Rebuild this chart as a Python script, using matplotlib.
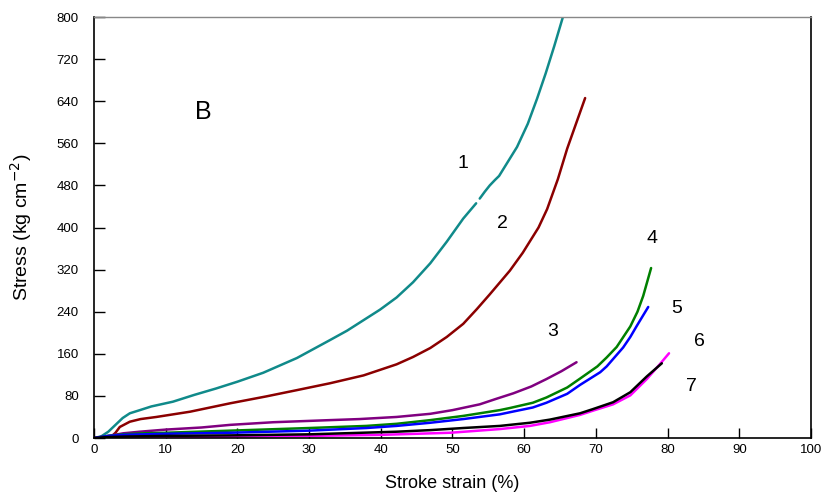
import matplotlib
matplotlib.use("Agg")
import matplotlib.pyplot as plt

# Curve 1 (teal), drawn in two pieces with a small gap
c1a_x = [0, 1, 2, 3, 4, 5, 6.4, 8, 11, 14, 17, 20, 23.6, 28.3, 32.9, 35.3, 37.6, 39.9, 42.2, 44.5, 46.9, 49.2, 51.5, 53.3]
c1a_y = [0, 3, 12, 25, 38, 47, 53, 60, 69, 82, 94, 107, 124, 152, 186, 204, 224, 244, 267, 296, 332, 373, 417, 446]
c1b_x = [53.8, 54.5, 55.2, 55.9, 56.5, 57.5, 59, 60.5, 61.8, 63, 64.2, 65.4]
c1b_y = [455, 468, 480, 490, 498, 520, 553, 597, 645, 693, 745, 800]

c2_x = [2.2, 3, 3.6, 5, 6.5, 8.7, 13.4, 19, 24, 28.3, 32.9, 37.6, 42.2, 44.5, 46.9, 49.2, 51.5, 53.4, 55.2, 58, 59.8, 62, 63.2, 64.7, 66, 67.3, 68.5]
c2_y = [0, 10, 21, 31, 36, 40, 50, 66, 79, 91, 104, 119, 140, 154, 171, 192, 217, 245, 273, 318, 352, 400, 435, 492, 550, 600, 646]

c3_x = [0, 2, 4.1, 6.4, 10, 15, 19, 25, 32.9, 37, 42.2, 46.9, 50, 53.8, 56, 58.5, 61, 63.1, 65.2, 67.3]
c3_y = [0, 4, 9, 12, 16, 20, 25, 30, 34, 36, 40, 46, 53, 64, 74, 85, 98, 112, 127, 144]

c4_x = [0, 2, 4, 7, 10, 19, 30, 38, 42.2, 46.9, 51.5, 56.6, 58, 61.2, 63.1, 66, 67.8, 70.2, 71.5, 72.9, 74.8, 75.8, 76.6, 77.7]
c4_y = [0, 4, 7, 9, 10, 14, 19, 23, 27, 34, 42, 53, 57, 67, 77, 96, 113, 136, 153, 173, 212, 240, 270, 323]

c5_x = [0, 2, 4, 7, 10, 19, 30, 38, 42.2, 46.9, 51.5, 56.6, 58, 61.2, 63.1, 66, 67.8, 70.6, 71.5, 73.8, 74.8, 75.7, 77.3]
c5_y = [0, 4, 6, 7, 8, 10, 14, 19, 23, 29, 36, 45, 49, 58, 67, 84, 101, 125, 136, 172, 192, 213, 249]

c6_x = [0, 5, 10, 19, 30, 40, 49.7, 56.6, 60.8, 63.6, 67.8, 69.6, 72.4, 74.8, 77.1, 78.9, 80.2]
c6_y = [0, 1, 1.5, 2.5, 4, 6, 10, 17, 23, 30, 44, 52, 64, 81, 112, 140, 161]

c7_x = [0, 2, 5, 10, 19, 30, 42.2, 46.9, 51.5, 56.6, 60.8, 63.6, 67.8, 69.6, 72.4, 74.8, 77.1, 79.2]
c7_y = [0, 2, 3, 4, 5, 7, 12, 15, 19, 23, 29, 35, 47, 55, 68, 87, 117, 142]

x_ticks = list(range(0, 101, 10))
y_ticks = list(range(0, 801, 80))

labels = ["1", "2", "3", "4", "5", "6", "7"]
label_x = [51.5, 56.9, 64.0, 77.8, 81.3, 84.4, 83.3]
label_y = [522, 407, 203, 380, 247, 184, 97]

plt.rcParams['font.family'] = ['Liberation Sans', 'DejaVu Sans']

fig = plt.figure(figsize=(8.23, 4.96), dpi=100)
ax = fig.add_axes([0.1142, 0.1169, 0.8712, 0.8488])

lw = 1.8
kw = dict(lw=lw, solid_joinstyle='round', solid_capstyle='round')
ax.plot(c1a_x, c1a_y, color='#108a8a', **kw)
ax.plot(c1b_x, c1b_y, color='#108a8a', **kw)
ax.plot(c2_x, c2_y, color='#8b0000', **kw)
ax.plot(c3_x, c3_y, color='#800080', **kw)
ax.plot(c4_x, c4_y, color='#008000', **kw)
ax.plot(c6_x, c6_y, color='#ff00ff', **kw)
ax.plot(c5_x, c5_y, color='#0000ff', **kw)
ax.plot(c7_x, c7_y, color='#000000', **kw)

for t, x, y in zip(labels, label_x, label_y):
    ax.text(x, y, t, fontsize=14, ha='center', va='center')
ax.text(15.2, 619, "B", fontsize=18, ha='center', va='center')

ax.set_xlim(0, 100)
ax.set_ylim(0, 800)
ax.set_xticks(x_ticks)
ax.set_yticks(y_ticks)
ax.tick_params(axis='y', direction='in', length=8, width=1, pad=11, labelsize=9.5)
ax.tick_params(axis='x', direction='in', length=7, width=1, pad=4, labelsize=9.5)
ax.spines['top'].set_color('#888888')
ax.spines['top'].set_linewidth(1)
for s in ['left', 'bottom', 'right']:
    ax.spines[s].set_linewidth(1.2)

ax.set_xlabel("Stroke strain (%)", fontsize=13, labelpad=14)
ax.set_ylabel("Stress (kg cm$^{-2}$)", fontsize=14, labelpad=16)

fig.savefig("out.png", dpi=100)
